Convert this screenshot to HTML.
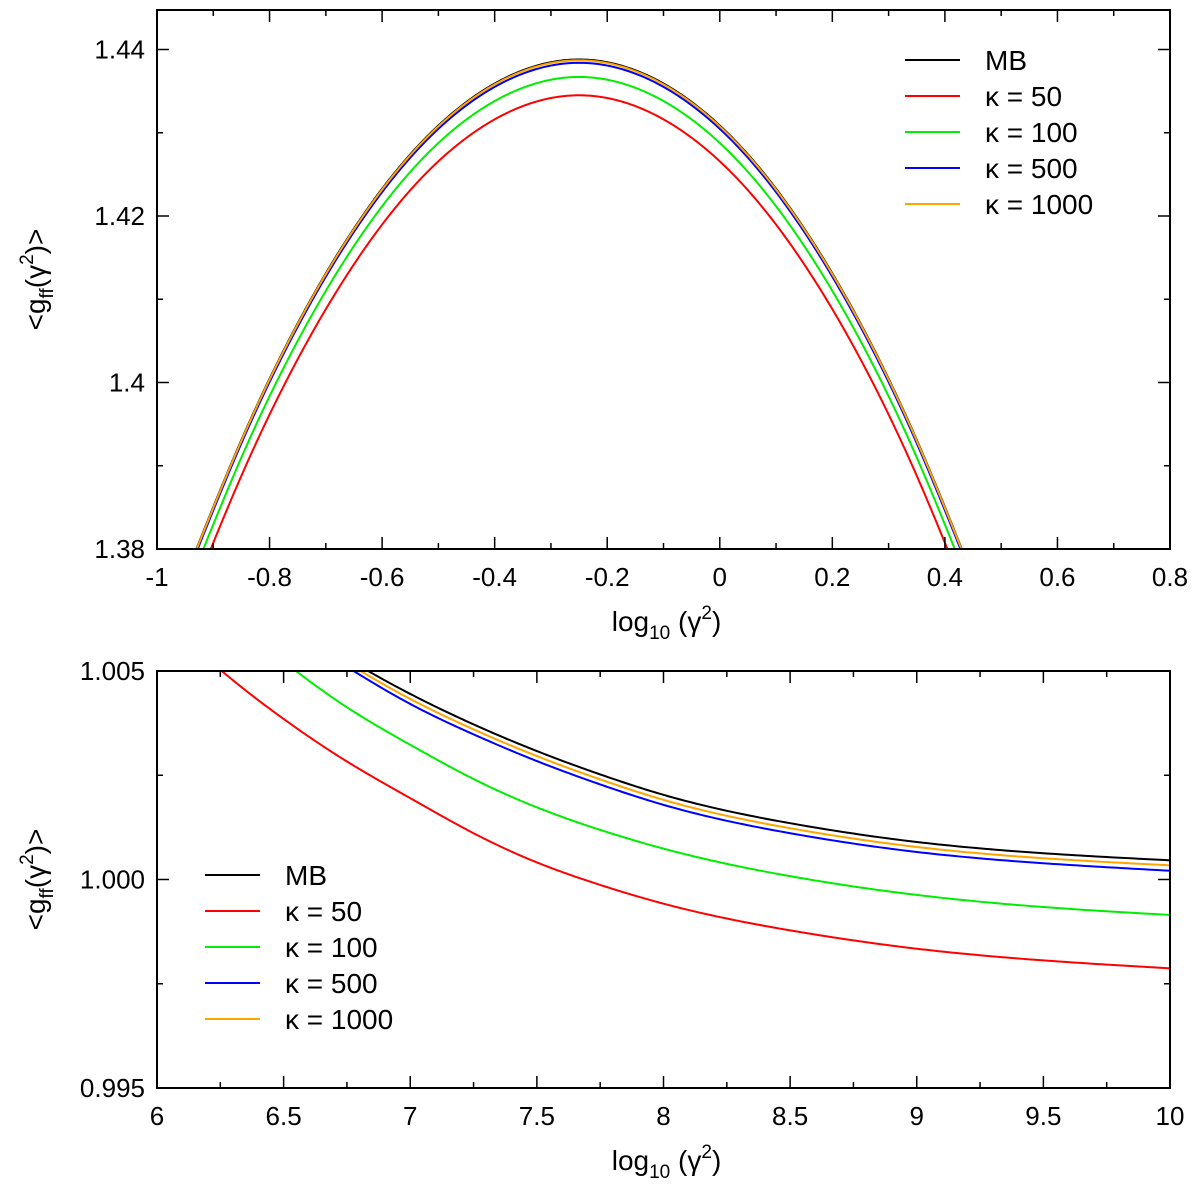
<!DOCTYPE html>
<html><head><meta charset="utf-8">
<style>
html,body{margin:0;padding:0;background:#fff;}
svg{display:block;font-family:"Liberation Sans",Arial,sans-serif;}
</style></head>
<body>
<svg id="chart" width="1200" height="1185" viewBox="0 0 1200 1185" xmlns="http://www.w3.org/2000/svg"></svg>
<script>
// ---- Top panel data ----
const topX = [-0.95,-0.85,-0.75,-0.65,-0.55,-0.45,-0.35,-0.25,-0.15,-0.05,0.05,0.15,0.25,0.35,0.45];
const topMB = [1.3766,1.3931,1.4071,1.4185,1.4274,1.4337,1.4375,1.4388,1.4375,1.4337,1.4274,1.4185,1.4071,1.3931,1.3766];
const topK50 = [1.3723,1.3888,1.4028,1.4142,1.4231,1.4294,1.4332,1.4345,1.4332,1.4294,1.4231,1.4142,1.4028,1.3888,1.3723];
const topK100 = [1.3745,1.3910,1.4050,1.4164,1.4253,1.4316,1.4354,1.4367,1.4354,1.4316,1.4253,1.4164,1.4050,1.3910,1.3745];
const topK500 = [1.3762,1.3927,1.4067,1.4181,1.4270,1.4333,1.4371,1.4384,1.4371,1.4333,1.4270,1.4181,1.4067,1.3927,1.3762];
const topK1000 = [1.3765,1.3930,1.4070,1.4184,1.4273,1.4336,1.4374,1.4387,1.4374,1.4336,1.4273,1.4184,1.4070,1.3930,1.3765];
const topXTicks = ["-1","-0.8","-0.6","-0.4","-0.2","0","0.2","0.4","0.6","0.8"];
const topYTicks = ["1.38","1.4","1.42","1.44"];
// ---- Bottom panel data ----
const botX = [6.0,6.25,6.5,6.75,7,7.25,7.5,7.75,8,8.5,9,9.5,10];
const botMB = [1.0089,1.0075,1.0063,1.0053,1.00445,1.00372,1.00308,1.00252,1.00203,1.00135,1.00090,1.00063,1.00046];
const botK1000 = [1.0088,1.0074,1.0062,1.0052,1.00433,1.00360,1.00296,1.00240,1.00191,1.00123,1.00078,1.00051,1.00034];
const botK500 = [1.0087,1.0073,1.0061,1.0051,1.00421,1.00348,1.00284,1.00228,1.00179,1.00111,1.00066,1.00039,1.00021];
const botK100 = [1.0081,1.00653,1.00523,1.00413,1.00323,1.00241,1.00173,1.00119,1.00074,1.00008,0.99963,0.99934,0.99915];
const botK50 = [1.0064,1.00503,1.00385,1.00283,1.00195,1.00111,1.00041,0.99987,0.99942,0.99878,0.99834,0.99806,0.99787];
const botXTicks = ["6","6.5","7","7.5","8","8.5","9","9.5","10"];
const botYTicks = ["0.995","1.000","1.005"];
const seriesNames = ["MB","κ = 50","κ = 100","κ = 500","κ = 1000"];
const seriesColors = ["#000000","#ff0000","#00ee00","#0000ff","#ffa500"];

const NS="http://www.w3.org/2000/svg";
const svg=document.getElementById('chart');
function mk(tag,attrs,parent){const e=document.createElementNS(NS,tag);for(const k in attrs)e.setAttribute(k,attrs[k]);(parent||svg).appendChild(e);return e;}
function splinePath(p){
  const n=p.length,x=p.map(q=>q[0]),y=p.map(q=>q[1]);
  const h=[],al=[],l=new Array(n).fill(1),mu=new Array(n).fill(0),z=new Array(n).fill(0),c=new Array(n).fill(0),b=[],d=[];
  for(let i=0;i<n-1;i++)h.push(x[i+1]-x[i]);
  for(let i=1;i<n-1;i++)al[i]=3/h[i]*(y[i+1]-y[i])-3/h[i-1]*(y[i]-y[i-1]);
  for(let i=1;i<n-1;i++){l[i]=2*(x[i+1]-x[i-1])-h[i-1]*mu[i-1];mu[i]=h[i]/l[i];z[i]=(al[i]-h[i-1]*z[i-1])/l[i];}
  for(let j=n-2;j>=0;j--){c[j]=z[j]-mu[j]*c[j+1];b[j]=(y[j+1]-y[j])/h[j]-h[j]*(c[j+1]+2*c[j])/3;d[j]=(c[j+1]-c[j])/(3*h[j]);}
  let s="M"+x[0]+","+y[0];
  for(let j=0;j<n-1;j++){const steps=24;for(let k=1;k<=steps;k++){const t=h[j]*k/steps;
    s+=" L"+(x[j]+t).toFixed(2)+","+(y[j]+b[j]*t+c[j]*t*t+d[j]*t*t*t).toFixed(2);}}
  return s;}

function panel(cfg){
  const g=mk('g',{});
  
  
  const L=157,R=1170,T=cfg.top,B=cfg.bottom;
  const sx=v=>L+(v-cfg.x0)/(cfg.x1-cfg.x0)*(R-L);
  const sy=v=>B-(v-cfg.y0)/(cfg.y1-cfg.y0)*(B-T);
  const cid='clip'+cfg.name;
  const defs=mk('defs',{},g);const cp=mk('clipPath',{id:cid},defs);mk('rect',{x:L,y:T,width:R-L,height:B-T},cp);
  const series=[cfg.mb,cfg.k50,cfg.k100,cfg.k500,cfg.k1000];
  const order=[1,2,0,3,4];
  order.forEach(i=>{
    const pts=cfg.xs.map((x,j)=>[sx(x),sy(series[i][j])]);
    const p=mk('path',{d:splinePath(pts),fill:'none',stroke:seriesColors[i],'stroke-width':2,'stroke-linejoin':'round','clip-path':'url(#'+cid+')'},g);
    
    
  });
  const tg=mk('g',{stroke:'#000','stroke-width':1.5},g);
  
  
  const nx=Math.round((cfg.x1-cfg.x0)/cfg.xMinor),ry=Math.round(cfg.xMajor/cfg.xMinor);
  for(let k=0;k<=nx;k++){
    const v=cfg.x0+k*cfg.xMinor,len=(k%ry===0)?12:6,x=sx(v);
    mk('line',{x1:x,y1:B,x2:x,y2:B-len},tg);mk('line',{x1:x,y1:T,x2:x,y2:T+len},tg);
  }
  const ny=Math.floor((cfg.y1-cfg.y0)/cfg.yMinor+1e-6),rr=Math.round(cfg.yMajor/cfg.yMinor);
  for(let k=0;k<=ny;k++){
    const v=cfg.y0+k*cfg.yMinor,len=(k%rr===0)?12:6,y=sy(v);
    mk('line',{x1:L,y1:y,x2:L+len,y2:y},tg);mk('line',{x1:R,y1:y,x2:R-len,y2:y},tg);
  }
  const fr=mk('rect',{x:L,y:T,width:R-L,height:B-T,fill:'none',stroke:'#000','stroke-width':2},g);
  
  
  cfg.xTicks.forEach(t=>{const e=mk('text',{x:sx(parseFloat(t)),y:B+37,'text-anchor':'middle','font-size':26},g);e.textContent=t;
    
    });
  cfg.yTicks.forEach(t=>{const e=mk('text',{x:L-12,y:sy(parseFloat(t))+9,'text-anchor':'end','font-size':26},g);e.textContent=t;
    
    });
  const xt=mk('text',{x:(L+R)/2+3,y:B+82,'text-anchor':'middle','font-size':28},g);
  xt.innerHTML='log<tspan font-size="19" dy="8">10</tspan><tspan dy="-8"> (γ</tspan><tspan font-size="19" dy="-12">2</tspan><tspan dy="12">)</tspan>';
  
  
  const yt=mk('text',{x:0,y:0,'text-anchor':'middle','font-size':28,transform:'translate(45,'+((T+B)/2)+') rotate(-90)'},g);
  yt.innerHTML='&lt;g<tspan font-size="19" dy="8">ff</tspan><tspan dy="-8">(γ</tspan><tspan font-size="19" dy="-12">2</tspan><tspan dy="12">)&gt;</tspan>';
  
  
  const lg=mk('g',{},g);
  
  
  seriesNames.forEach((n,i)=>{
    const y=cfg.legY+i*36;
    const en=mk('g',{},lg);
    
    
    mk('line',{x1:cfg.legX,y1:y,x2:cfg.legX+55,y2:y,stroke:seriesColors[i],'stroke-width':2},en);
    const t=mk('text',{x:cfg.legX+80,y:y+10,'font-size':28},en);t.textContent=n;
  });
}
panel({name:'top-panel',top:10,bottom:549,x0:-1,x1:0.8,y0:1.38,y1:1.38+0.02*539/166.5,xMajor:0.2,xMinor:0.1,yMajor:0.02,yMinor:0.01,
  xs:topX,mb:topMB,k50:topK50,k100:topK100,k500:topK500,k1000:topK1000,xTicks:topXTicks,yTicks:topYTicks,legX:905,legY:60});
panel({name:'bottom-panel',top:671,bottom:1088,x0:6,x1:10,y0:0.995,y1:1.005,xMajor:0.5,xMinor:0.25,yMajor:0.005,yMinor:0.0025,
  xs:botX,mb:botMB,k50:botK50,k100:botK100,k500:botK500,k1000:botK1000,xTicks:botXTicks,yTicks:botYTicks,legX:205,legY:875});
</script>
</body></html>
